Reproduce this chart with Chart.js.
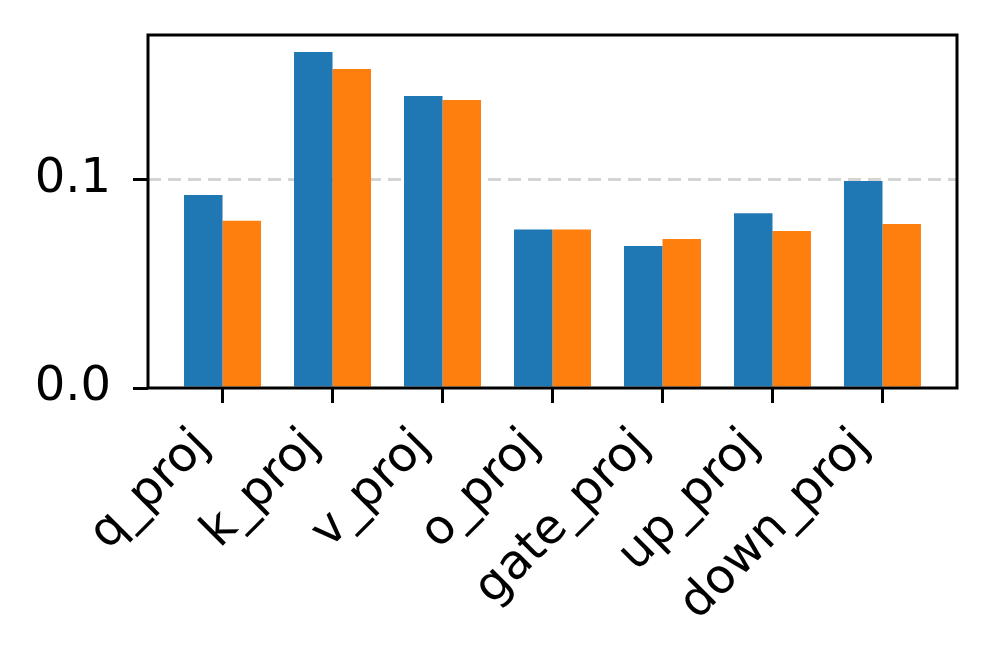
<!DOCTYPE html>
<html>
<head>
<meta charset="utf-8">
<script src="https://cdn.jsdelivr.net/npm/chart.js@4.4.1/dist/chart.umd.min.js"></script>
<style>
  html, body { margin: 0; padding: 0; background: #fff; }
  #wrap { width: 994px; height: 670px; position: relative; }
</style>
</head>
<body>
<div id="wrap"><canvas id="chart"></canvas></div>
<script>
const categories = ['q_proj', 'k_proj', 'v_proj', 'o_proj', 'gate_proj', 'up_proj', 'down_proj'];
const seriesBlue = [0.0928, 0.1615, 0.1404, 0.0762, 0.0683, 0.0840, 0.0995];
const seriesOrange = [0.0804, 0.1534, 0.1385, 0.0762, 0.0716, 0.0755, 0.0788];
const yTicks = [0.0, 0.1];
const yMax = 0.1697;
const xMin = -0.6775, xMax = 6.6775;

const FONT = { family: 'DejaVu Sans', size: 48 };

// matplotlib-style box around the plot area
const framePlugin = {
  id: 'frame',
  afterDraw(chart) {
    const { ctx, chartArea: a } = chart;
    ctx.save();
    ctx.strokeStyle = '#000';
    ctx.lineWidth = 3;
    ctx.strokeRect(a.left, a.top, a.right - a.left, a.bottom - a.top);
    ctx.restore();
  }
};

const toPoints = (vals) => vals.map((v, i) => ({ x: i, y: v }));

new Chart(document.getElementById('chart'), {
  type: 'bar',
  data: {
    datasets: [
      { label: 'Series 1', data: toPoints(seriesBlue), backgroundColor: '#1f77b4', borderWidth: 0 },
      { label: 'Series 2', data: toPoints(seriesOrange), backgroundColor: '#ff7f0e', borderWidth: 0 }
    ]
  },
  options: {
    responsive: true,
    maintainAspectRatio: false,
    animation: false,
    categoryPercentage: 0.7,
    barPercentage: 1.0,
    layout: { padding: { left: 0, top: 35, right: 37, bottom: 0 } },
    plugins: { legend: { display: false }, tooltip: { enabled: false } },
    scales: {
      x: {
        type: 'linear',
        min: xMin,
        max: xMax,
        offset: false,
        afterBuildTicks: (s) => { s.ticks = categories.map((_, i) => ({ value: i })); },
        afterFit: (s) => { s.height = 282; s.paddingLeft = 0; s.paddingRight = 0; },
        border: { display: false },
        grid: { offset: false, drawOnChartArea: false, tickLength: 15, tickWidth: 3, tickColor: '#000' },
        ticks: {
          callback: (v) => categories[v],
          autoSkip: false,
          minRotation: 45,
          maxRotation: 45,
          padding: 15,
          labelOffset: -20,
          color: '#000',
          font: FONT
        }
      },
      y: {
        min: 0,
        max: yMax,
        z: 1, // grid drawn over the bars, like the reference
        afterBuildTicks: (s) => { s.ticks = yTicks.map(v => ({ value: v })); },
        afterFit: (s) => { s.width = 148; s.paddingTop = 0; s.paddingBottom = 0; },
        border: { display: false, dash: [13, 7] },
        grid: {
          color: (ctx) => (ctx.tick && ctx.tick.value === 0 ? 'rgba(0,0,0,0)' : 'rgba(170,170,170,0.5)'),
          lineWidth: 3,
          tickLength: 15,
          tickWidth: 3,
          tickColor: '#000',
          tickBorderDash: []
        },
        ticks: {
          callback: (v) => v.toFixed(1),
          padding: 22,
          color: '#000',
          font: FONT
        }
      }
    }
  },
  plugins: [framePlugin]
});
</script>
</body>
</html>
